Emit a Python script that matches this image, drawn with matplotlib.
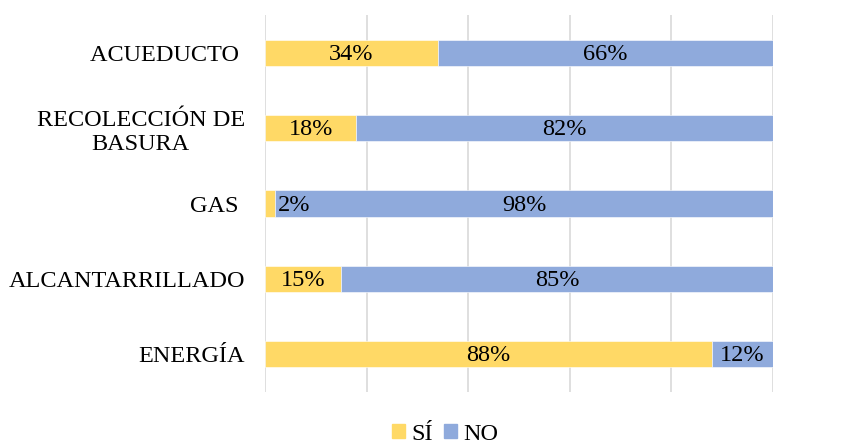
import matplotlib
matplotlib.use("Agg")
import matplotlib.pyplot as plt
from matplotlib.patches import Patch

plt.rcParams['font.family'] = ['Liberation Serif', 'DejaVu Serif']

categories = ["ACUEDUCTO ", "RECOLECCIÓN DE\nBASURA", "GAS ", "ALCANTARRILLADO", "ENERGÍA"]
si_values = [34, 18, 2, 15, 88]
no_values = [66, 82, 98, 85, 12]
series_names = ["SÍ", "NO"]

yellow = "#FFD966"
blue = "#8FAADC"

fig = plt.figure(figsize=(8.62, 4.44), dpi=100)
ax = fig.add_axes([265/862, 1-392/444, 508/862, 377/444])

y = list(range(len(categories)))
ax.barh(y, si_values, height=0.345, color=yellow, edgecolor="white", linewidth=0.4, zorder=3)
ax.barh(y, no_values, left=si_values, height=0.345, color=blue, edgecolor="white", linewidth=0.4, zorder=3)

fs = 17.5
for i, (s, n) in enumerate(zip(si_values, no_values)):
    if s >= 5:
        ax.text(s / 2, i + 0.02, f"{s}%", ha="center", va="center", fontsize=fs, zorder=4)
    else:
        ax.text(s + 0.5, i + 0.02, f"{s}%", ha="left", va="center", fontsize=fs, zorder=4)
    ax.text(s + n / 2, i + 0.02, f"{n}%", ha="center", va="center", fontsize=fs, zorder=4)

ax.set_xlim(0, 100)
ax.set_ylim(len(categories) - 0.5, -0.5)
ax.set_xticks([0, 20, 40, 60, 80, 100])
ax.set_xticklabels([])
ax.tick_params(axis="x", length=0)
ax.grid(axis="x", color="#D9D9D9", linewidth=1.2, zorder=0)
ax.set_yticks(y)
ax.set_yticklabels(categories, fontsize=fs, multialignment="center")
ax.tick_params(axis="y", length=0, pad=14.5)
for sp in ax.spines.values():
    sp.set_visible(False)

handles = [Patch(color=yellow), Patch(color=blue)]
fig.legend(handles, series_names, loc="center", bbox_to_anchor=(0.516, 0.022),
           ncol=2, frameon=False, fontsize=fs, handlelength=0.55, handleheight=0.55,
           handletextpad=0.25, columnspacing=0.45)

fig.savefig("out.png", dpi=100)
